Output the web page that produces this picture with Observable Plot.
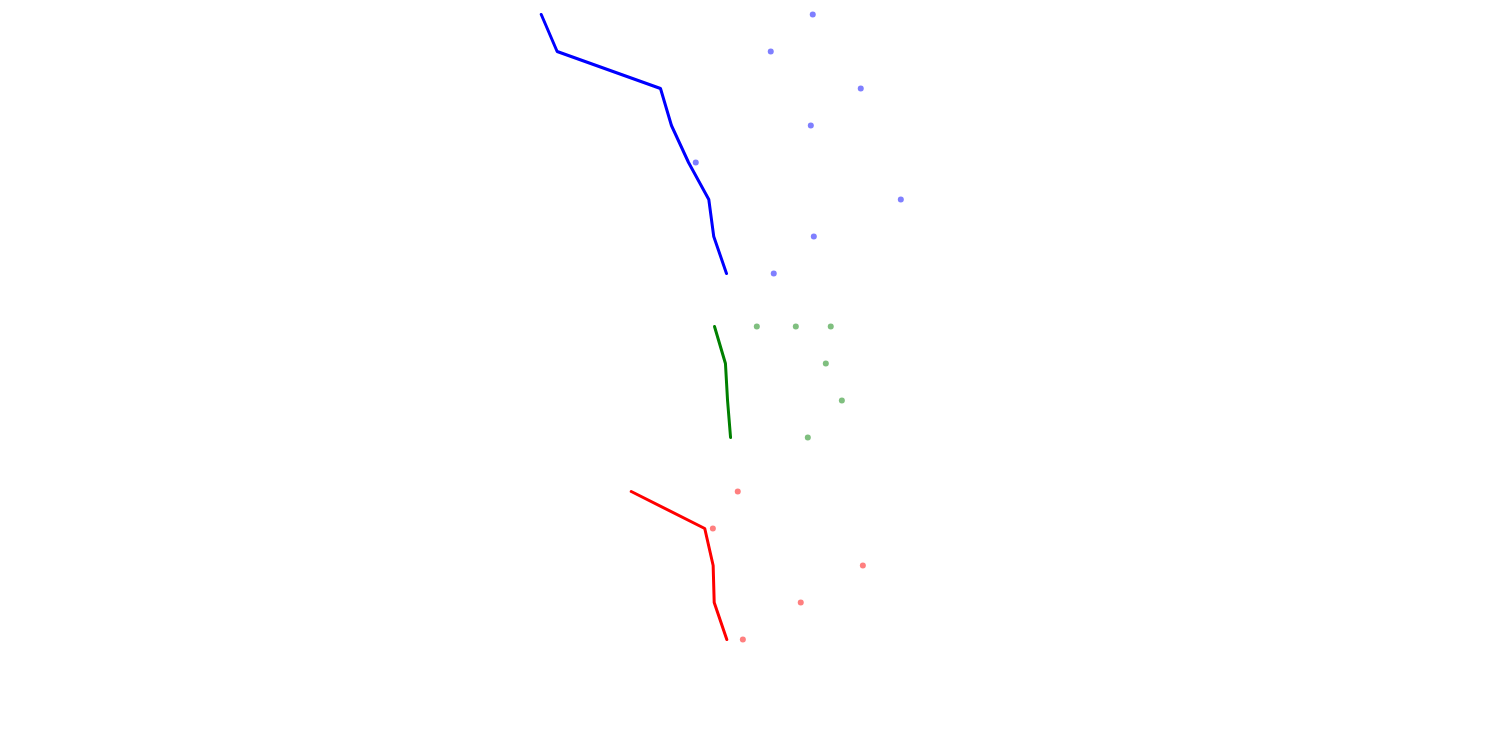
<!DOCTYPE html>
<html>
<head>
<meta charset="utf-8">
<script src="https://cdn.jsdelivr.net/npm/d3@7"></script>
<script src="https://cdn.jsdelivr.net/npm/@observablehq/plot@0.6"></script>
<style>
  body { margin: 0; background: #fff; }
  #chart { display: flex; flex-direction: column; width: 1500px; }
  #chart svg { display: block; }
</style>
</head>
<body>
<div id="chart"></div>
<script>
// Blue group
const blueRows = [1, 2, 3, 4, 5, 6, 7, 8];
const blueDotRows = [1, 2, 3, 4, 5, 6, 7, 8];
const blueDotValues = [54.15, 51.35, 57.35, 54.02, 46.35, 60.02, 54.22, 51.55];
const blueLineValues = [36.05, 37.11, 44.0, 44.73, 45.87, 47.22, 47.55, 48.4];

// Green group
const greenRows = [1, 2, 3, 4];
const greenDotRows = [1, 1, 1, 2, 3, 4];
const greenDotValues = [50.42, 53.02, 55.35, 55.02, 56.09, 53.82];
const greenLineValues = [47.6, 48.33, 48.47, 48.67];

// Red group
const redRows = [1, 2, 3, 4, 5];
const redDotRows = [1, 2, 3, 4, 5];
const redDotValues = [49.15, 47.49, 57.49, 53.35, 49.49];
const redLineValues = [42.05, 46.95, 47.51, 47.58, 48.42];

function panel(rows, dotRows, dotValues, lineValues, color, height, marginTop, marginBottom) {
  const dots = dotRows.map((r, i) => ({row: r, value: dotValues[i]}));
  const line = rows.map((r, i) => ({row: r, value: lineValues[i]}));
  return Plot.plot({
    width: 1500,
    height,
    marginLeft: 0,
    marginRight: 0,
    marginTop,
    marginBottom,
    x: {domain: [0, 100], axis: null},
    y: {type: "point", domain: rows, padding: 0, axis: null},
    marks: [
      Plot.line(line, {x: "value", y: "row", stroke: color, strokeWidth: 3}),
      Plot.dot(dots, {x: "value", y: "row", r: 3, fill: color, fillOpacity: 0.5})
    ]
  });
}

const chart = document.getElementById("chart");
chart.append(panel(blueRows, blueDotRows, blueDotValues, blueLineValues, "blue", 313, 12.8, 39.7));
chart.append(panel(greenRows, greenDotRows, greenDotValues, greenLineValues, "green", 165, 13.3, 40.7));
chart.append(panel(redRows, redDotRows, redDotValues, redLineValues, "red", 202, 13.3, 40.7));
</script>
</body>
</html>
